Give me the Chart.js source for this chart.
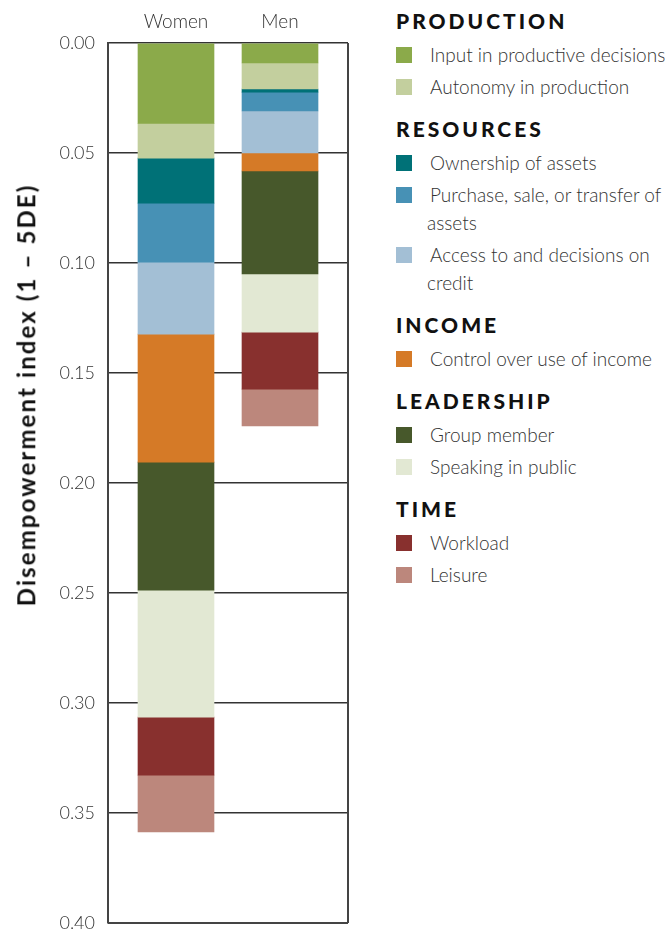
<!DOCTYPE html>
<html>
<head>
<meta charset="utf-8">
<script src="https://cdn.jsdelivr.net/npm/chart.js@4.4.1/dist/chart.umd.min.js"></script>
<style>
  html, body { margin: 0; padding: 0; background: #fff; }
  #wrap { position: relative; width: 668px; height: 930px; overflow: hidden; font-family: Lato, "Open Sans", sans-serif; }
  #chartBox { position: absolute; left: 0; top: 0; width: 360px; height: 930px; }
  #ytitle { position: absolute; left: 0; top: 0; transform: rotate(-90deg); line-height: 26px;
            white-space: nowrap; font-family: Lato, sans-serif; font-weight: 700; font-size: 24px; letter-spacing: 2.1px; color: #111; }
  #legend { position: absolute; left: 396px; top: 5px; width: 272px; color: #333; }
  .grp { margin-bottom: 12px; }
  .grp h3 { margin: 0; font-family: Lato, sans-serif; font-weight: 900; font-size: 21px; line-height: 32px; letter-spacing: 3px; color: #111; }
  .item { display: flex; align-items: flex-start; margin-top: 4px; }
  .sw { flex: 0 0 16px; width: 16px; height: 16px; margin-top: 6px; margin-right: 15px; }
  .txt { font-family: Lato, sans-serif; font-weight: 300; font-size: 19px; line-height: 28px; width: 240px; text-indent: 3px; }
</style>
</head>
<body>
<div id="wrap">
  <div id="chartBox"><canvas id="c" width="360" height="930"></canvas></div>
  <div id="ytitle"></div>
  <div id="legend"></div>
</div>
<script>
// ---- data ----
const categories = ['Women', 'Men'];
const seriesLabels = [
  'Input in productive decisions',
  'Autonomy in production',
  'Ownership of assets',
  'Purchase, sale, or transfer of assets',
  'Access to and decisions on credit',
  'Control over use of income',
  'Group member',
  'Speaking in public',
  'Workload',
  'Leisure'
];
const groupNames = ['PRODUCTION', 'RESOURCES', 'INCOME', 'LEADERSHIP', 'TIME'];
const seriesGroup = [0, 0, 1, 1, 1, 2, 3, 3, 4, 4];
const womenValues = [0.0365, 0.0158, 0.0205, 0.0268, 0.0327, 0.0582, 0.0582, 0.0577, 0.0264, 0.0258];
const menValues   = [0.0091, 0.0118, 0.0014, 0.0086, 0.0191, 0.0082, 0.0468, 0.0264, 0.0259, 0.0168];
const seriesColors = ['#8BAA4A', '#C3CF9E', '#007177', '#4791B5', '#A3BFD5', '#D57A27', '#47582B', '#E2E8D3', '#88302E', '#BC877C'];
const yTickValues = [0, 0.05, 0.10, 0.15, 0.20, 0.25, 0.30, 0.35, 0.40];
const yAxisTitle = 'Disempowerment index (1 – 5DE)';

// ---- axis title (centred at x=26, y=395) ----
const yt = document.getElementById('ytitle');
yt.textContent = yAxisTitle;
yt.style.left = (26 - yt.offsetWidth / 2) + 'px';
yt.style.top = (395 - yt.offsetHeight / 2) + 'px';

// ---- legend ----
const legend = document.getElementById('legend');
groupNames.forEach((g, gi) => {
  const grp = document.createElement('div');
  grp.className = 'grp';
  const h = document.createElement('h3');
  h.textContent = g;
  grp.appendChild(h);
  seriesLabels.forEach((lab, i) => {
    if (seriesGroup[i] !== gi) return;
    const it = document.createElement('div');
    it.className = 'item';
    const sw = document.createElement('div');
    sw.className = 'sw';
    sw.style.background = seriesColors[i];
    const tx = document.createElement('div');
    tx.className = 'txt';
    tx.textContent = lab;
    it.appendChild(sw);
    it.appendChild(tx);
    grp.appendChild(it);
  });
  legend.appendChild(grp);
});

// ---- chart ----
const datasets = seriesLabels.map((lab, i) => ({
  label: lab,
  data: [{ x: 0, y: womenValues[i] }, { x: 1, y: menValues[i] }],
  backgroundColor: seriesColors[i],
  borderWidth: 0,
  barThickness: 76
}));

const framePlugin = {
  id: 'frame',
  afterDraw(chart) {
    const { ctx, chartArea: a } = chart;
    ctx.save();
    ctx.strokeStyle = '#444';
    ctx.lineWidth = 2;
    ctx.beginPath();
    ctx.moveTo(a.right, a.top);
    ctx.lineTo(a.right, a.bottom);
    ctx.stroke();
    ctx.beginPath();
    ctx.moveTo(a.left, a.bottom);
    ctx.lineTo(a.right, a.bottom);
    ctx.stroke();
    ctx.restore();
  }
};

const side = 0.6538;
new Chart(document.getElementById('c'), {
  type: 'bar',
  data: { datasets },
  plugins: [framePlugin],
  options: {
    responsive: false,
    animation: false,
    layout: { padding: { left: 0, top: 0, right: 12, bottom: 7 } },
    plugins: { legend: { display: false }, tooltip: { enabled: false } },
    scales: {
      x: {
        type: 'linear',
        position: 'top',
        stacked: true,
        offset: false,
        min: -side,
        max: 1 + side,
        grid: { display: false, drawTicks: false, offset: false },
        border: { display: false },
        afterBuildTicks: (s) => { s.ticks = categories.map((c, i) => ({ value: i })); },
        afterFit: (s) => { s.height = 43; s.paddingLeft = 0; s.paddingRight = 0; },
        ticks: {
          padding: 10,
          color: '#333',
          font: { family: 'Lato', size: 19, weight: '300' },
          callback: (v) => categories[v] ?? ''
        }
      },
      y: {
        type: 'linear',
        stacked: true,
        reverse: true,
        min: 0,
        max: 0.4,
        afterBuildTicks: (s) => { s.ticks = yTickValues.map(v => ({ value: v })); },
        afterFit: (s) => { s.width = 108; s.paddingTop = 0; s.paddingBottom = 0; },
        grid: { color: '#333', lineWidth: 1.5, drawTicks: false },
        border: { display: true, color: '#444', width: 2 },
        ticks: {
          padding: 13,
          color: '#333',
          font: { family: 'Lato', size: 18, weight: '300' },
          callback: (v) => Number(v).toFixed(2)
        }
      }
    }
  }
});
</script>
</body>
</html>
